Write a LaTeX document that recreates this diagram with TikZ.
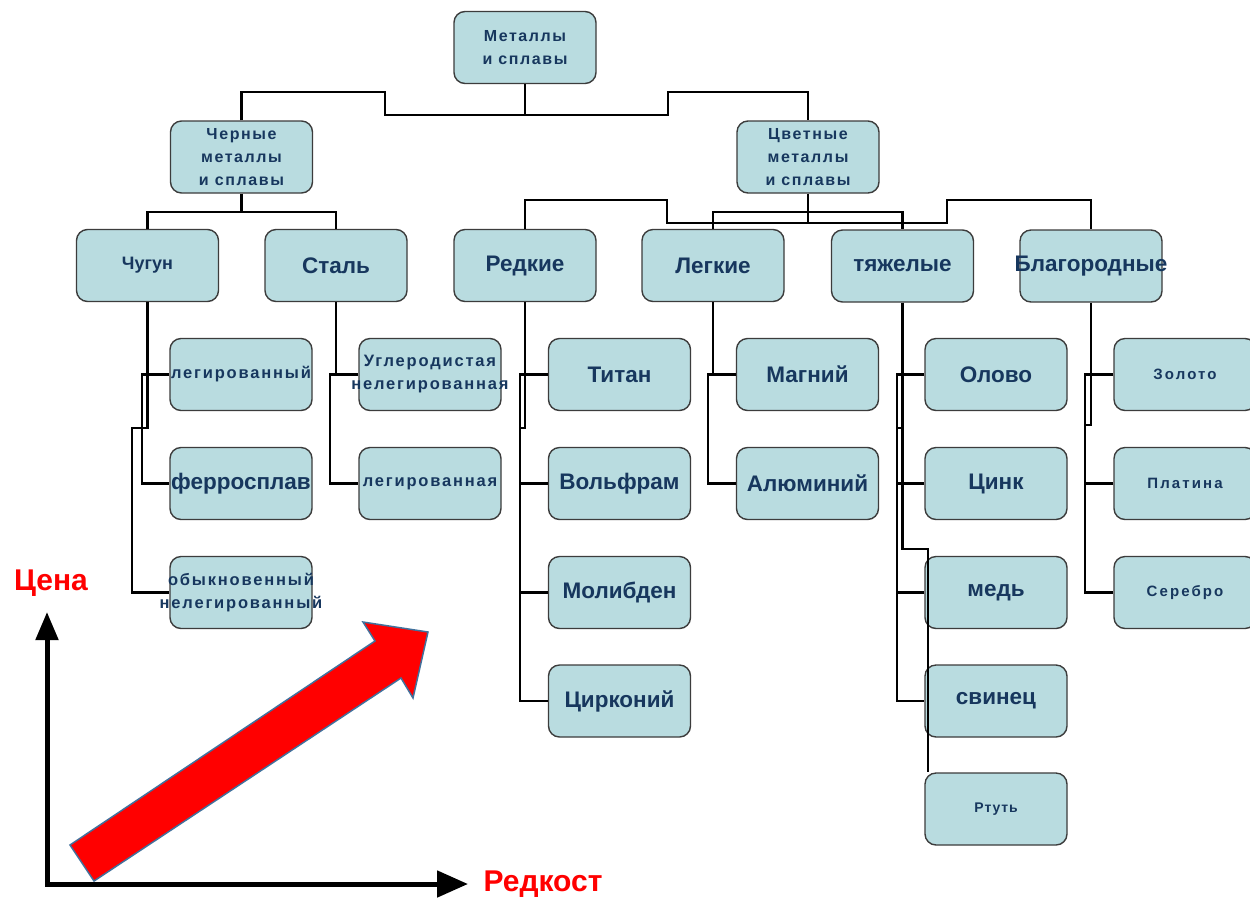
\documentclass[tikz,border=0pt]{standalone}
\usepackage{fontspec}
\setmainfont{Liberation Sans}
\usetikzlibrary{arrows.meta,calc}
\definecolor{boxfill}{HTML}{B9DCE0}
\definecolor{boxline}{HTML}{3C3C3C}
\definecolor{txt}{HTML}{17375E}
\definecolor{arrowline}{HTML}{41719C}
\definecolor{axred}{HTML}{FF0000}
\begin{document}
\begin{tikzpicture}[x=1pt,y=-1pt,
  box/.style={draw=boxline, fill=boxfill, rounded corners=11pt, line width=1.4pt,
    minimum width=142pt, minimum height=72pt, inner sep=0pt, text=txt, align=center,
    font=\bfseries\fontsize{22.5}{26}\selectfont},
  overflow/.style={inner xsep=-12pt},
  mid/.style={font=\bfseries\fontsize{16}{23}\selectfont\addfontfeature{LetterSpace=10}},
  sml/.style={font=\bfseries\fontsize{16.5}{23}\selectfont\addfontfeature{LetterSpace=11}},
  tiny/.style={font=\bfseries\fontsize{15}{20}\selectfont\addfontfeature{LetterSpace=14}},
  conn/.style={line width=2.7pt, draw=black},
  axis/.style={line width=5pt, draw=black, line join=miter,
    {Triangle[length=28pt,width=22pt]}-{Triangle[length=31pt,width=26pt]}},
  redlabel/.style={text=axred, font=\bfseries\fontsize{30}{34}\selectfont, inner sep=0pt}
]
\useasboundingbox (0,0) rectangle (1250,898);
\fill[white] (0,0) rectangle (1250,898);

% level 0-1
\node[box,mid] (root) at (525,47.5) {Металлы\\и сплавы};
\node[box,mid] (cherm) at (241.5,157) {Черные\\металлы\\и сплавы};
\node[box,mid] (cvet) at (808,157) {Цветные\\металлы\\и сплавы};
% level 2
\node[box,font=\bfseries\fontsize{18}{22}\selectfont] (chugun) at (147.5,265.5) {Чугун};
\node[box] (stal) at (336,265.5) {Сталь};
\node[box] (redk) at (525,265.5) {Редкие};
\node[box] (legk) at (713,265.5) {Легкие};
\node[box] (tyazh) at (902.5,266) {тяжелые};
\node[box,overflow] (blag) at (1091,266) {Благородные};
% level 3
\node[box,sml,overflow] (c1) at (241,374.5) {легированный};
\node[box,overflow] (c2) at (241,483.5) {ферросплав};
\node[box,sml,overflow] (c3) at (241,592.5) {обыкновенный\\нелегированный};
\node[box,sml,overflow] (s1) at (430,374.5) {Углеродистая\\нелегированная};
\node[box,sml] (s2) at (430,483.5) {легированная};
\node[box] (r1) at (619.5,374.5) {Титан};
\node[box] (r2) at (619.5,483.5) {Вольфрам};
\node[box] (r3) at (619.5,592.5) {Молибден};
\node[box] (r4) at (619.5,701) {Цирконий};
\node[box] (l1) at (807.5,374.5) {Магний};
\node[box] (l2) at (807.5,483.5) {Алюминий};
\node[box] (t1) at (996,374.5) {Олово};
\node[box] (t2) at (996,483.5) {Цинк};
\node[box] (t3) at (996,592.5) {медь};
\node[box] (t4) at (996,701) {свинец};
\node[box,font=\bfseries\fontsize{14}{16}\selectfont\addfontfeature{LetterSpace=6}] (t5) at (996,809) {Ртуть};
\node[box,tiny] (g1) at (1185,374.5) {Золото};
\node[box,tiny] (g2) at (1185,483.5) {Платина};
\node[box,tiny] (g3) at (1185,592.5) {Серебро};

% connectors: top
\draw[conn] (cherm.north) -- (cherm.north |- 0,92) -- (385,92) -- (385,115) -- (668,115) -- (668,92) -- (cvet.north |- 0,92) -- (cvet.north);
\draw[conn] (root.south) -- (root.south |- 0,115);
% Черные
\draw[conn] (cherm.south) -- (cherm.south |- 0,212);
\draw[conn] (chugun.north) |- (stal.north |- 0,212) -- (stal.north);
% Цветные
\draw[conn] (cvet.south) -- (cvet.south |- 0,223);
\draw[conn] (redk.north) -- (redk.north |- 0,200) -- (667,200) -- (667,223) -- (947,223) -- (947,200) -- (blag.north |- 0,200) -- (blag.north);
\draw[conn] (legk.north) |- (tyazh.north |- 0,212) -- (tyazh.north);
% Чугун
\draw[conn] (chugun.south) -- (chugun.south |- 0,428) -- (132,428) |- (c3.west);
\draw[conn] (c1.west) -- (c1.west -| 142,0) |- (c2.west);
% Сталь
\draw[conn] (stal.south) -- (stal.south |- s1.west);
\draw[conn] (s1.west) -- (s1.west -| 330,0) |- (s2.west);
% Редкие
\draw[conn] (redk.south) -- (redk.south |- 0,428) -- (520,428);
\draw[conn] (r1.west) -- (r1.west -| 520,0) |- (r4.west);
\draw[conn] (r2.west) -- (r2.west -| 520,0);
\draw[conn] (r3.west) -- (r3.west -| 520,0);
% Легкие
\draw[conn] (legk.south) -- (legk.south |- l1.west);
\draw[conn] (l1.west) -- (l1.west -| 708,0) |- (l2.west);
% тяжелые
\draw[conn] (tyazh.south) -- (tyazh.south |- 0,428) -- (897,428);
\draw[conn] (t1.west) -- (t1.west -| 897,0) |- (t4.west);
\draw[conn] (t2.west) -- (t2.west -| 897,0);
\draw[conn] (t3.west) -- (t3.west -| 897,0);
\draw[conn] (tyazh.south) -- (tyazh.south |- 0,549) -- (928,549) -- (t5.north -| 928,0);
% Благородные
\draw[conn] (blag.south) -- (blag.south |- 0,425) -- (1085,425);
\draw[conn] (g1.west) -- (g1.west -| 1085,0) |- (g3.west);
\draw[conn] (g2.west) -- (g2.west -| 1085,0);

% axes
\coordinate (ytip) at (47,612);
\coordinate (origin) at (47,884);
\coordinate (xtip) at (468,884);
\draw[axis] (ytip) -- (origin) -- (xtip);
\node[redlabel] (cena) at (51,583) {Цена};
\node[redlabel] (redkost) at (543,884) {Редкост};

% red block arrow
\filldraw[fill=axred, draw=arrowline, line width=1.5pt, line join=miter]
  (70,845) -- (375,641) -- (363,622) -- (428,632) -- (413,698) -- (401,678) -- (94,881) -- cycle;
\end{tikzpicture}
\end{document}
